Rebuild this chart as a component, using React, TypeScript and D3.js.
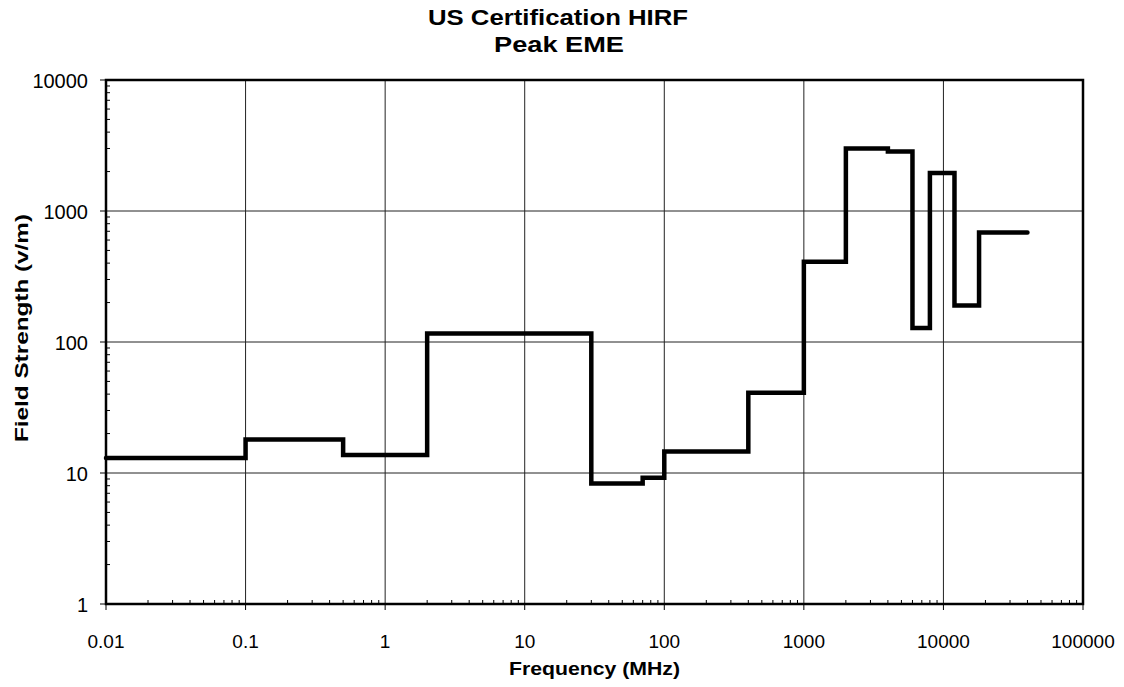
import React from "react";
import * as d3 from "d3";

const freqEdges = [0.01, 0.1, 0.5, 2, 30, 70, 100, 400, 1000, 2000, 4000, 6000, 8000, 12000, 18000, 40000];
const fieldValues = [13, 18, 13.7, 116, 8.3, 9.2, 14.6, 41, 410, 3000, 2850, 128, 1950, 190, 685];
const xTicks = [0.01, 0.1, 1, 10, 100, 1000, 10000, 100000];
const xTickLabels = ["0.01", "0.1", "1", "10", "100", "1000", "10000", "100000"];
const yTicks = [1, 10, 100, 1000, 10000];
const yTickLabels = ["1", "10", "100", "1000", "10000"];

const W = 1124, H = 687;
const L = 106, R = 1083, T = 80, B = 604;
const FONT = "'Liberation Sans', Arial, Helvetica, sans-serif";

export default function App() {
  const x = d3.scaleLog().domain([0.01, 100000]).range([L, R]);
  const y = d3.scaleLog().domain([1, 10000]).range([B, T]);

  const pts: [number, number][] = fieldValues.map((v, i) => [freqEdges[i], v]);
  pts.push([freqEdges[freqEdges.length - 1], fieldValues[fieldValues.length - 1]]);
  const line = d3.line<[number, number]>()
    .x((d) => x(d[0]))
    .y((d) => y(d[1]))
    .curve(d3.curveStepAfter);

  const xMinor: number[] = [];
  for (let e = -2; e < 5; e++) for (let k = 2; k <= 9; k++) xMinor.push(k * Math.pow(10, e));
  const yMinor: number[] = [];
  for (let e = 0; e < 4; e++) for (let k = 2; k <= 9; k++) yMinor.push(k * Math.pow(10, e));

  return (
    <svg width={W} height={H} style={{ position: "absolute", left: 0, top: 0, background: "#fff" }} fontFamily={FONT}>
      <rect x={0} y={0} width={W} height={H} fill="#fff" />
      {/* title */}
      <text x={558} y={25} textAnchor="middle" fontSize={22} fontWeight="bold" textLength={260} lengthAdjust="spacingAndGlyphs">US Certification HIRF</text>
      <text x={559} y={52} textAnchor="middle" fontSize={22} fontWeight="bold" textLength={130} lengthAdjust="spacingAndGlyphs">Peak EME</text>

      {/* grid */}
      {xTicks.slice(1, -1).map((t) => (
        <line key={"gx" + t} x1={x(t)} x2={x(t)} y1={T} y2={B} stroke="#222" strokeWidth={1} />
      ))}
      {yTicks.slice(1, -1).map((t) => (
        <line key={"gy" + t} x1={L} x2={R} y1={y(t)} y2={y(t)} stroke="#222" strokeWidth={1} />
      ))}

      {/* minor ticks */}
      {xMinor.map((t, i) => (
        <line key={"mx" + i} x1={x(t)} x2={x(t)} y1={B} y2={B - 4} stroke="#000" strokeWidth={1} />
      ))}
      {yMinor.map((t, i) => (
        <line key={"my" + i} x1={L} x2={L + 4} y1={y(t)} y2={y(t)} stroke="#000" strokeWidth={1} />
      ))}
      {/* major ticks */}
      {xTicks.map((t) => (
        <line key={"tx" + t} x1={x(t)} x2={x(t)} y1={B} y2={B + 6} stroke="#000" strokeWidth={1} />
      ))}
      {yTicks.map((t) => (
        <line key={"ty" + t} x1={L - 6} x2={L} y1={y(t)} y2={y(t)} stroke="#000" strokeWidth={1} />
      ))}

      {/* frame */}
      <rect x={L} y={T} width={R - L} height={B - T} fill="none" stroke="#000" strokeWidth={2.5} />

      {/* data */}
      <path d={line(pts) || ""} fill="none" stroke="#000" strokeWidth={4.5} strokeLinejoin="miter" strokeLinecap="round" />

      {/* tick labels */}
      {xTicks.map((t, i) => (
        <text key={"lx" + t} x={x(t)} y={648} textAnchor="middle" fontSize={19}>{xTickLabels[i]}</text>
      ))}
      {yTicks.map((t, i) => (
        <text key={"ly" + t} x={88} y={y(t) + 8} textAnchor="end" fontSize={20}>{yTickLabels[i]}</text>
      ))}

      {/* axis titles */}
      <text x={594.5} y={675} textAnchor="middle" fontSize={19} fontWeight="bold" textLength={171} lengthAdjust="spacingAndGlyphs">Frequency (MHz)</text>
      <text transform="translate(28,328) rotate(-90)" textAnchor="middle" fontSize={18} fontWeight="bold" textLength={228} lengthAdjust="spacingAndGlyphs">Field Strength (v/m)</text>
    </svg>
  );
}
